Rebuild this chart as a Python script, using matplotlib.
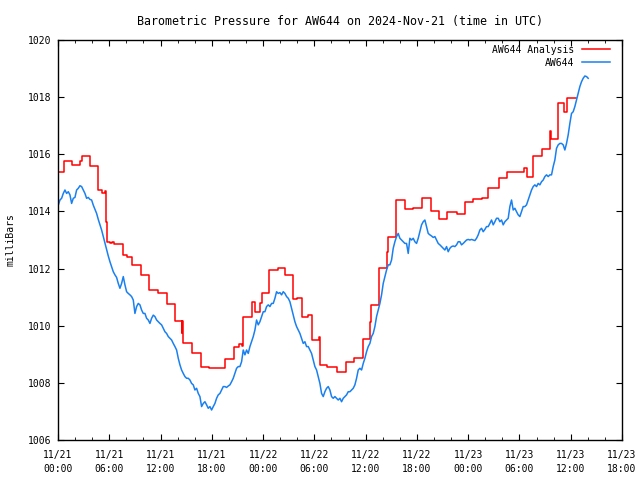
import matplotlib
matplotlib.use("Agg")
import matplotlib.pyplot as plt
import matplotlib.dates as mdates
import pandas as pd

# AW644 Analysis: step values (hours after 2024-11-21 00:00, millibars)
red_hours = [0.0, 0.74, 1.68, 2.57, 2.77, 3.74, 4.72, 5.10, 5.45, 5.58, 5.77, 6.1, 6.35, 6.6,
             7.65, 8.04, 8.7, 9.71, 10.65, 11.66, 12.72, 13.69, 14.47, 14.55, 14.67, 15.64,
             16.7, 17.7, 19.54, 20.64, 21.2, 21.5, 21.69, 22.67, 23.05, 23.64, 23.9, 24.73,
             25.71, 26.56, 27.54, 28.0, 28.52, 29.2, 29.69, 30.5, 30.66, 31.52, 32.61, 33.66,
             34.64, 35.69, 35.9, 36.55, 36.63, 37.6, 38.54, 38.66, 39.55, 40.6, 41.58, 42.64,
             43.65, 44.63, 45.49, 46.66, 47.63, 48.6, 49.58, 50.36, 51.6, 52.58, 54.57, 54.92,
             55.62, 56.6, 57.58, 57.7, 58.55, 59.22, 59.53, 60.58]
red_mb = [1015.39, 1015.75, 1015.62, 1015.76, 1015.94, 1015.59, 1014.75, 1014.63, 1014.70,
          1013.64, 1012.94, 1012.88, 1012.92, 1012.85, 1012.47, 1012.39, 1012.13, 1011.78,
          1011.25, 1011.13, 1010.76, 1010.17, 1009.73, 1010.17, 1009.38, 1009.06, 1008.54,
          1008.52, 1008.82, 1009.24, 1009.35, 1009.30, 1010.32, 1010.84, 1010.49, 1010.78,
          1011.16, 1011.95, 1012.01, 1011.78, 1010.93, 1010.96, 1010.32, 1010.38, 1009.50,
          1009.60, 1008.62, 1008.54, 1008.37, 1008.74, 1008.86, 1009.52, 1009.55, 1010.14,
          1010.71, 1012.01, 1012.59, 1013.12, 1014.40, 1014.07, 1014.11, 1014.46, 1014.01,
          1013.72, 1013.98, 1013.91, 1014.32, 1014.43, 1014.46, 1014.81, 1015.16, 1015.39,
          1015.51, 1015.22, 1015.94, 1016.17, 1016.83, 1016.55, 1017.81, 1017.47, 1017.96,
          1017.96]

# AW644 observations, one reading every 702 s starting 00:02 UTC
obs_start = "2024-11-21 00:02"
obs_mb = [
    1014.22, 1014.40, 1014.46, 1014.63, 1014.75, 1014.63, 1014.69, 1014.58, 1014.28, 1014.46,
    1014.49, 1014.75, 1014.81, 1014.90, 1014.87, 1014.75, 1014.63, 1014.46, 1014.49, 1014.42,
    1014.40, 1014.22, 1014.07, 1013.93, 1013.72, 1013.53, 1013.35, 1013.12, 1012.88, 1012.65,
    1012.44, 1012.24, 1012.07, 1011.89, 1011.78, 1011.69, 1011.48, 1011.31, 1011.48, 1011.72,
    1011.43, 1011.19, 1011.13, 1011.08, 1011.02, 1010.90, 1010.43, 1010.67, 1010.78, 1010.73,
    1010.55, 1010.43,
    1010.43, 1010.26, 1010.20, 1010.08, 1010.26, 1010.37, 1010.32, 1010.20, 1010.14, 1010.08,
    1010.03, 1009.91, 1009.79, 1009.73, 1009.62, 1009.56, 1009.50, 1009.38, 1009.27, 1009.15,
    1008.86, 1008.63, 1008.45, 1008.33, 1008.22, 1008.16, 1008.16, 1008.10, 1007.98, 1007.93,
    1007.75, 1007.81, 1007.63, 1007.52, 1007.17, 1007.28, 1007.34, 1007.23, 1007.11, 1007.17,
    1007.05, 1007.17, 1007.28, 1007.46, 1007.58, 1007.63, 1007.75, 1007.87, 1007.87, 1007.84,
    1007.89, 1007.93, 1008.04, 1008.16, 1008.33, 1008.51, 1008.57,
    1008.57, 1008.74, 1009.15, 1008.98, 1009.15, 1009.03, 1009.27, 1009.44, 1009.62, 1009.85,
    1010.20, 1010.03, 1010.14, 1010.32, 1010.49, 1010.49, 1010.67, 1010.73, 1010.67, 1010.78,
    1010.78, 1010.96, 1011.19, 1011.13, 1011.16, 1011.08, 1011.19, 1011.13, 1011.02, 1010.96,
    1010.84, 1010.61, 1010.37, 1010.14, 1009.97, 1009.85, 1009.73, 1009.56, 1009.38, 1009.44,
    1009.27, 1009.27, 1009.15, 1009.03, 1008.80, 1008.57, 1008.45, 1008.22, 1007.98, 1007.63,
    1007.52, 1007.69, 1007.81, 1007.87, 1007.75, 1007.52, 1007.46,
    1007.52, 1007.46, 1007.40, 1007.46, 1007.34, 1007.46, 1007.52, 1007.58, 1007.69, 1007.69,
    1007.75, 1007.81, 1007.93, 1008.16, 1008.45, 1008.51, 1008.45, 1008.68, 1008.86, 1009.09,
    1009.27, 1009.38, 1009.62, 1009.73, 1009.97, 1010.32, 1010.55, 1010.78, 1011.08, 1011.48,
    1011.72, 1011.95, 1012.13, 1012.13, 1012.30, 1012.71, 1012.94, 1013.12, 1013.23, 1013.06,
    1013.00, 1012.94, 1012.88, 1012.88, 1012.53, 1013.06, 1013.00, 1013.06, 1012.94, 1012.88,
    1013.06, 1013.29, 1013.53, 1013.64, 1013.70, 1013.47, 1013.23,
    1013.18, 1013.14, 1013.09, 1013.12, 1013.00, 1012.88, 1012.83, 1012.77, 1012.71, 1012.65,
    1012.77, 1012.59, 1012.71, 1012.77, 1012.79, 1012.77, 1012.83, 1012.94, 1012.94, 1012.83,
    1012.88, 1012.94, 1013.00, 1013.02, 1013.00, 1013.02, 1013.00, 1012.98, 1013.06, 1013.18,
    1013.35, 1013.41, 1013.29, 1013.37, 1013.47, 1013.47, 1013.58, 1013.70, 1013.53, 1013.64,
    1013.76, 1013.76, 1013.64, 1013.70, 1013.53, 1013.64, 1013.70, 1013.76, 1014.17, 1014.40,
    1014.05, 1014.11, 1013.99, 1013.88, 1013.82, 1013.99, 1014.17,
    1014.17, 1014.23, 1014.40, 1014.58, 1014.75, 1014.87, 1014.93, 1014.87, 1014.98, 1014.93,
    1015.04, 1015.10, 1015.22, 1015.28, 1015.22, 1015.28, 1015.28, 1015.57, 1015.80, 1016.21,
    1016.33, 1016.38, 1016.38, 1016.33, 1016.15, 1016.38, 1016.68, 1017.08, 1017.43, 1017.49,
    1017.67, 1017.90, 1018.13, 1018.37, 1018.54, 1018.66, 1018.74, 1018.72, 1018.66]

day0 = pd.Timestamp("2024-11-21 00:00")
red_t = day0 + pd.to_timedelta(red_hours, unit="h")
obs_t = pd.date_range(obs_start, periods=len(obs_mb), freq="702s")

plt.rcParams["font.family"] = "DejaVu Sans Mono"
plt.rcParams["font.size"] = 7

fig = plt.figure(figsize=(6.4, 4.8), dpi=100)
ax = fig.add_axes([58 / 640, 40 / 480, 564 / 640, 400 / 480])

ax.plot(red_t, red_mb, color="#ff0000", lw=1.1, drawstyle="steps-post", label="AW644 Analysis")
ax.plot(obs_t, obs_mb, color="#1a80f0", lw=1.1, label="AW644")

ax.set_xlim(day0, day0 + pd.Timedelta(hours=66))
ax.set_ylim(1006, 1020)
ax.set_yticks(range(1006, 1021, 2))
ax.xaxis.set_major_locator(mdates.HourLocator(byhour=[0, 6, 12, 18]))
ax.xaxis.set_minor_locator(mdates.HourLocator(interval=2))
ax.xaxis.set_major_formatter(mdates.DateFormatter("%m/%d\n%H:%M"))
for lab in ax.get_xticklabels():
    lab.set_linespacing(1.5)
ax.tick_params(which="both", direction="in", top=True, right=True, color="black")
ax.tick_params(which="major", length=4, pad=5)
ax.tick_params(axis="x", which="major", pad=7)
ax.tick_params(which="minor", length=2)
for s in ax.spines.values():
    s.set_linewidth(1.0)

ax.set_ylabel("milliBars", labelpad=9)
ax.set_title("Barometric Pressure for AW644 on 2024-Nov-21 (time in UTC)", pad=11)
ax.legend(loc="upper right", bbox_to_anchor=(0.988, 1.0), frameon=False, markerfirst=False,
          handlelength=2.9, borderaxespad=0.3, labelspacing=0.3, handletextpad=0.8,
          borderpad=0.2)

fig.savefig("out.png", dpi=100)
